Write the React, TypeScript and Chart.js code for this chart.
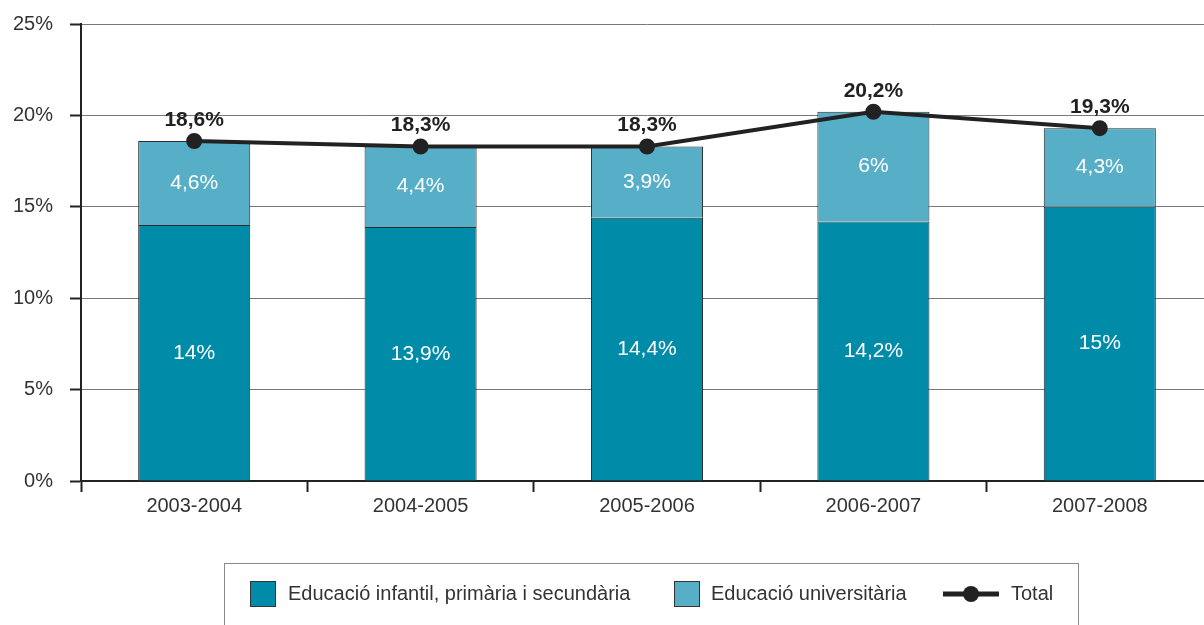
import React, { useEffect, useRef } from "react";
import { Chart, registerables } from "chart.js";

Chart.register(...registerables);

const categories = ["2003-2004", "2004-2005", "2005-2006", "2006-2007", "2007-2008"];
const primaria = [14, 13.9, 14.4, 14.2, 15];
const universitaria = [4.6, 4.4, 3.9, 6, 4.3];
const total = [18.6, 18.3, 18.3, 20.2, 19.3];
const seriesNames = ["Educació infantil, primària i secundària", "Educació universitària", "Total"];

const DARK = "#008ba8";
const LIGHT = "#56aec7";
const FONT = "'Liberation Sans', Arial, Helvetica, sans-serif";

const fmt = (v: number) => String(v).replace(".", ",") + "%";

const labelsPlugin = {
  id: "valueLabels",
  afterDatasetsDraw(chart: any) {
    const ctx = chart.ctx;
    ctx.save();
    ctx.textAlign = "center";
    ctx.textBaseline = "middle";
    [1, 2].forEach((di) => {
      const meta = chart.getDatasetMeta(di);
      const data = chart.data.datasets[di].data as number[];
      meta.data.forEach((el: any, i: number) => {
        ctx.fillStyle = "#ffffff";
        ctx.font = `21px ${FONT}`;
        ctx.fillText(fmt(data[i]), el.x, (el.y + el.base) / 2);
      });
    });
    const lm = chart.getDatasetMeta(0);
    const td = chart.data.datasets[0].data as number[];
    lm.data.forEach((el: any, i: number) => {
      ctx.fillStyle = "#222222";
      ctx.font = `bold 21px ${FONT}`;
      ctx.fillText(fmt(td[i]), el.x, el.y - 21);
    });
    ctx.restore();
  },
};

const legendPlugin = {
  id: "boxLegend",
  afterDraw(chart: any) {
    const ctx = chart.ctx;
    ctx.save();
    ctx.strokeStyle = "#8a8a8a";
    ctx.lineWidth = 1;
    ctx.strokeRect(224.5, 563.5, 854, 120);
    const cy = 594;
    ctx.font = `20px ${FONT}`;
    ctx.textBaseline = "middle";
    ctx.textAlign = "left";
    ctx.fillStyle = DARK;
    ctx.fillRect(250, 581, 26, 26);
    ctx.strokeStyle = "#333";
    ctx.strokeRect(250.5, 581.5, 25, 25);
    ctx.fillStyle = "#333";
    ctx.fillText(seriesNames[0], 288, cy);
    ctx.fillStyle = LIGHT;
    ctx.fillRect(674, 581, 26, 26);
    ctx.strokeStyle = "#333";
    ctx.strokeRect(674.5, 581.5, 25, 25);
    ctx.fillStyle = "#333";
    ctx.fillText(seriesNames[1], 711, cy);
    ctx.strokeStyle = "#222";
    ctx.lineWidth = 5;
    ctx.beginPath();
    ctx.moveTo(943, cy);
    ctx.lineTo(999, cy);
    ctx.stroke();
    ctx.fillStyle = "#222";
    ctx.beginPath();
    ctx.arc(971, cy, 8, 0, Math.PI * 2);
    ctx.fill();
    ctx.fillStyle = "#333";
    ctx.fillText(seriesNames[2], 1011, cy);
    ctx.restore();
  },
};

export default function App() {
  const ref = useRef<HTMLCanvasElement | null>(null);
  useEffect(() => {
    if (!ref.current) return;
    const chart = new Chart(ref.current, {
      type: "bar",
      data: {
        labels: categories,
        datasets: [
          {
            type: "line",
            label: seriesNames[2],
            data: total,
            stack: "total",
            borderColor: "#222",
            backgroundColor: "#222",
            borderWidth: 4,
            pointRadius: 6,
            pointBackgroundColor: "#222",
            pointBorderColor: "#222",
            order: 0,
          } as any,
          {
            label: seriesNames[0],
            data: primaria,
            stack: "edu",
            backgroundColor: DARK,
            borderColor: "#2a2a2a",
            borderWidth: 1,
            order: 1,
          },
          {
            label: seriesNames[1],
            data: universitaria,
            stack: "edu",
            backgroundColor: LIGHT,
            borderColor: "#2a2a2a",
            borderWidth: 1,
            order: 1,
          },
        ],
      },
      options: {
        responsive: false,
        animation: false,
        layout: { autoPadding: false, padding: { top: 24, left: 0, right: 17, bottom: 0 } },
        datasets: { bar: { categoryPercentage: 1, barPercentage: 0.495 } },
        plugins: { legend: { display: false }, tooltip: { enabled: false } },
        scales: {
          x: {
            stacked: true,
            offset: true,
            afterFit: (s: any) => {
              s.height = 144;
              s.paddingLeft = 0;
              s.paddingRight = 0;
            },
            grid: {
              offset: true,
              drawOnChartArea: false,
              drawTicks: true,
              tickLength: 11,
              tickColor: "#222",
              tickWidth: 2,
              color: "#222",
            },
            border: { display: true, color: "#222", width: 2 },
            ticks: { color: "#333", font: { family: FONT, size: 20 }, padding: 2 },
          },
          y: {
            stacked: true,
            min: 0,
            max: 25,
            afterFit: (s: any) => {
              s.width = 81;
              s.paddingTop = 0;
              s.paddingBottom = 0;
            },
            grid: {
              color: "#777",
              lineWidth: 1,
              tickLength: 11,
              tickColor: "#222",
              tickWidth: 2,
            },
            border: { display: true, color: "#222", width: 2 },
            ticks: {
              stepSize: 5,
              color: "#333",
              font: { family: FONT, size: 20 },
              padding: 17,
              callback: (v: any) => v + "%",
            },
          },
        },
      },
      plugins: [labelsPlugin, legendPlugin],
    });
    return () => chart.destroy();
  }, []);
  return (
    <div style={{ position: "fixed", left: 0, top: 0, width: "100vw", height: "100vh", overflow: "hidden", background: "#fff" }}>
      <canvas ref={ref} width={1230} height={625} style={{ width: 1230, height: 625, display: "block" }} />
    </div>
  );
}
